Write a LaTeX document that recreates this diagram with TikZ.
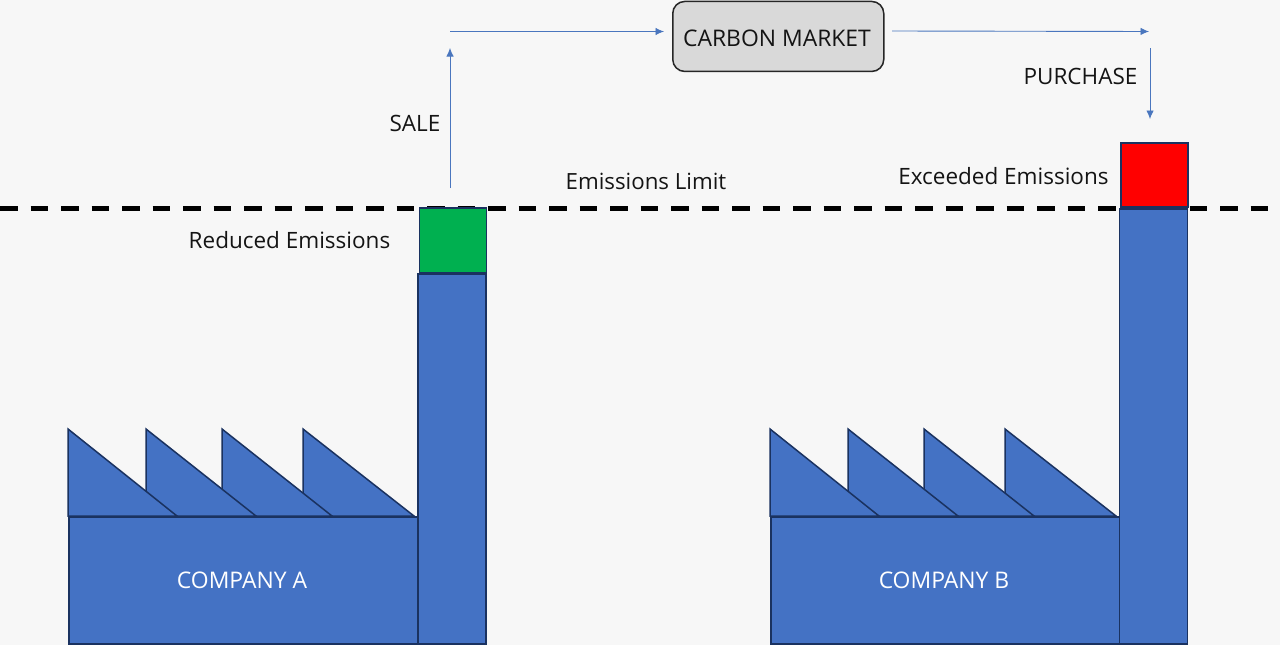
\documentclass[tikz,border=0pt]{standalone}
\usepackage{fontspec}
\setmainfont{Open Sans}
\usetikzlibrary{arrows.meta}
\definecolor{bgc}{HTML}{F7F7F7}
\definecolor{bluec}{HTML}{4472C4}
\definecolor{edgec}{HTML}{1A3260}
\definecolor{arrowc}{HTML}{4A76BE}
\definecolor{greenc}{HTML}{00B050}
\definecolor{marketc}{HTML}{D9D9D9}
\tikzset{
  part/.style={draw=edgec,line width=1.5pt,fill=bluec,line join=miter},
  box/.style={draw=edgec,line width=1.7pt,rectangle,inner sep=0pt,minimum width=#1},
  lbl/.style={font=\fontsize{22.5}{26}\selectfont,text=black!92,inner sep=0pt},
  bigl/.style={lbl,font=\fontsize{22.9}{26}\selectfont},
  link/.style={draw=arrowc,line width=0.9pt,-{Latex[length=8.5pt,width=7.5pt]}},
  limit/.style={line width=4.3pt,dash pattern=on 17.5pt off 13pt}
}
\newcommand{\factory}[7]{%
  \draw[part] (#5,429) -- (#5,516) -- (#5+111,516) -- cycle;
  \draw[part] (#4,429) -- (#4,516) -- (#7,516) -- cycle;
  \draw[part] (#3,429) -- (#3,516) -- (#6,516) -- cycle;
  \draw[part] (#2,429) -- (#2,516) -- (#2+109,516) -- cycle;
}
\begin{document}
\begin{tikzpicture}[x=1pt,y=-1pt]
\useasboundingbox (0,0) rectangle (1280,645);
\fill[bgc] (0,0) rectangle (1280,645);
% emissions limit
\coordinate (limitL) at (0,208.5);
\coordinate (limitR) at (1270,208.5);
\draw[limit] (limitL) -- (limitR);
% company A
\factory{a}{68}{146}{222}{303}{256}{332}
\node[part,rectangle,inner sep=0pt,minimum width=349pt,minimum height=127pt,anchor=north west] (bodyA) at (68,516) {};
\node[part,rectangle,inner sep=0pt,minimum width=68pt,minimum height=370pt,anchor=north west] (stackA) at (417.3,273) {};
\node[box=67pt,fill=greenc,minimum height=64.5pt,anchor=south west] (reduced) at (418.5,273.5) {};
\node[bigl,text=white] (nameA) at (242,580) {COMPANY A};
% company B
\factory{b}{770}{848}{924}{1005}{958}{1034}
\node[part,rectangle,inner sep=0pt,minimum width=349pt,minimum height=127pt,anchor=north west] (bodyB) at (770,516) {};
\node[part,rectangle,inner sep=0pt,minimum width=68pt,minimum height=435pt,anchor=north west] (stackB) at (1118.8,208) {};
\node[box=67pt,fill=red,minimum height=64.5pt,anchor=south west] (exceeded) at (1120.3,208) {};
\node[bigl,text=white] (nameB) at (944,580) {COMPANY B};
% market
\node[draw=black!85,line width=1.5pt,fill=marketc,rounded corners=12pt,rectangle,inner sep=0pt,minimum width=211pt,minimum height=70pt,anchor=north west] (market) at (672,0.7) {};
\node[bigl] (marketText) at (777,38.5) {CARBON MARKET};
% labels
\node[lbl] (sale) at (415,123.5) {SALE};
\node[lbl] (purchase) at (1080.5,76) {PURCHASE};
\node[lbl,font=\fontsize{22.3}{26}\selectfont] (limitText) at (646,181) {Emissions Limit};
\node[lbl] (reducedText) at (289.5,240) {Reduced Emissions};
\node[lbl] (exceededText) at (1003.5,176.5) {Exceeded Emissions};
% connectors
\coordinate (saleFrom) at (450,188);
\coordinate (saleTo) at (450,48);
\coordinate (toMarket) at (450,31.5);
\coordinate (fromMarket) at (892,31);
\coordinate (corner) at (1149,31.5);
\coordinate (buyFrom) at (1150,48);
\coordinate (buyTo) at (1150,119);
\draw[link] (saleFrom) -- (saleTo);
\draw[link,shorten >=8pt] (toMarket) -- (toMarket -| market.west);
\draw[link] (fromMarket) -- (corner);
\draw[link] (buyFrom) -- (buyTo);
\end{tikzpicture}
\end{document}
